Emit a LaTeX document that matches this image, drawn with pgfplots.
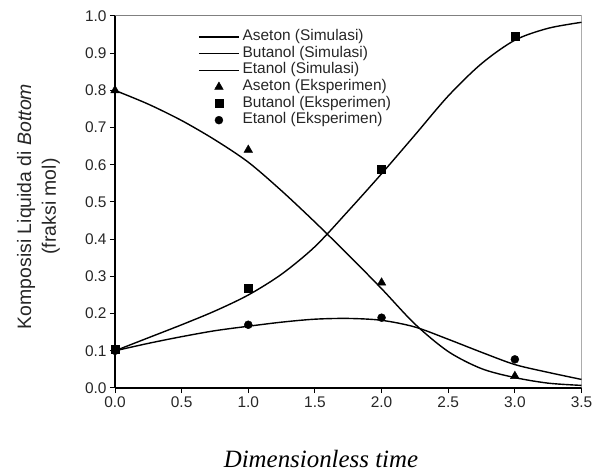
\documentclass[border=0pt]{standalone}
\usepackage{pgfplots}
\pgfplotsset{compat=1.18}
\usepackage{fontspec}
\setmainfont{Liberation Sans}
\newfontfamily\timesfont{Liberation Serif}
\begin{document}
\begin{tikzpicture}
\useasboundingbox (0,0) rectangle (603bp,474bp);
\begin{axis}[
  scale only axis,
  width=466.5bp, height=372bp,
  at={(115bp,86bp)}, anchor=south west,
  xmin=0, xmax=3.5, ymin=0, ymax=1,
  axis x line*=bottom, axis y line*=left,
  axis line style={-, black, line width=1.2bp},
  xtick={0,0.5,...,3.5},
  ytick={0,0.1,...,1.0},
  tick align=outside,
  major tick length=5bp,
  tick style={black, line width=1bp},
  /pgf/number format/assume math mode=true,
  xticklabel style={/pgf/number format/.cd, fixed, fixed zerofill, precision=1},
  yticklabel style={/pgf/number format/.cd, fixed, fixed zerofill, precision=1},
  ticklabel style={font=\fontsize{15.5}{17}\selectfont, text=black!85},
  xlabel={\timesfont\itshape Dimensionless time},
  xlabel style={font=\fontsize{25}{27}\selectfont, at={(axis description cs:0.4416,-0.2124)}, anchor=base},
  ylabel={Komposisi Liquida di \textit{Bottom}\\(fraksi mol)},
  ylabel style={font=\fontsize{19.5}{25}\selectfont, align=center, text=black!85, at={(axis description cs:-0.164,0.488)}, anchor=center, rotate=0},
  legend style={draw=none, fill=none, inner sep=0pt, at={(axis description cs:0.178,0.966)}, anchor=north west,
    font=\fontsize{15.5}{17}\selectfont, text=black!85,
    nodes={inner sep=0pt, text height=11.8bp, text depth=4.8bp},
    row sep=0pt},
  /tikz/every even column/.append style={column sep=0pt},
  legend cell align=left,
  legend image code/.code={\draw[mark repeat=2,mark phase=2,#1] plot coordinates {(0bp,0bp) (20bp,0bp) (40bp,0bp)}; \path (43bp,0bp);},
]
\draw[gray, line width=1bp] (rel axis cs:0,1) -- (rel axis cs:1,1) -- (rel axis cs:1,0);
% Simulation curves
\addplot[black, line width=1.4bp, smooth, no marks] coordinates {
(0,0.800) (0.25,0.763) (0.5,0.719) (0.75,0.667) (1.0,0.607) (1.25,0.530) (1.5,0.446) (1.75,0.358) (2.0,0.267) (2.25,0.172) (2.5,0.098) (2.75,0.052) (3.0,0.028) (3.25,0.013) (3.5,0.007)};
\addlegendentry{Aseton (Simulasi)}
\addplot[black, line width=1.4bp, smooth, no marks] coordinates {
(0,0.100) (0.25,0.135) (0.5,0.170) (0.75,0.207) (1.0,0.250) (1.25,0.306) (1.5,0.380) (1.75,0.476) (2.0,0.576) (2.25,0.680) (2.5,0.785) (2.75,0.872) (3.0,0.935) (3.25,0.967) (3.5,0.983)};
\addlegendentry{Butanol (Simulasi)}
\addplot[black, line width=1.4bp, smooth, no marks] coordinates {
(0,0.100) (0.25,0.120) (0.5,0.138) (0.75,0.154) (1.0,0.166) (1.25,0.177) (1.5,0.185) (1.75,0.187) (2.0,0.182) (2.25,0.164) (2.5,0.131) (2.75,0.096) (3.0,0.063) (3.25,0.042) (3.5,0.023)};
\addlegendentry{Etanol (Simulasi)}
% Experimental points
\addplot[only marks, mark=triangle*, mark size=5bp, black] coordinates {(0,0.80) (1,0.64) (2,0.283) (3,0.032)};
\addlegendentry{Aseton (Eksperimen)}
\addplot[only marks, mark=square*, mark size=4bp, black] coordinates {(0,0.105) (1,0.267) (2,0.588) (3,0.946)};
\addlegendentry{Butanol (Eksperimen)}
\addplot[only marks, mark=*, mark size=4bp, black] coordinates {(0,0.10) (1,0.170) (2,0.189) (3,0.077)};
\addlegendentry{Etanol (Eksperimen)}
\end{axis}
\end{tikzpicture}
\end{document}
